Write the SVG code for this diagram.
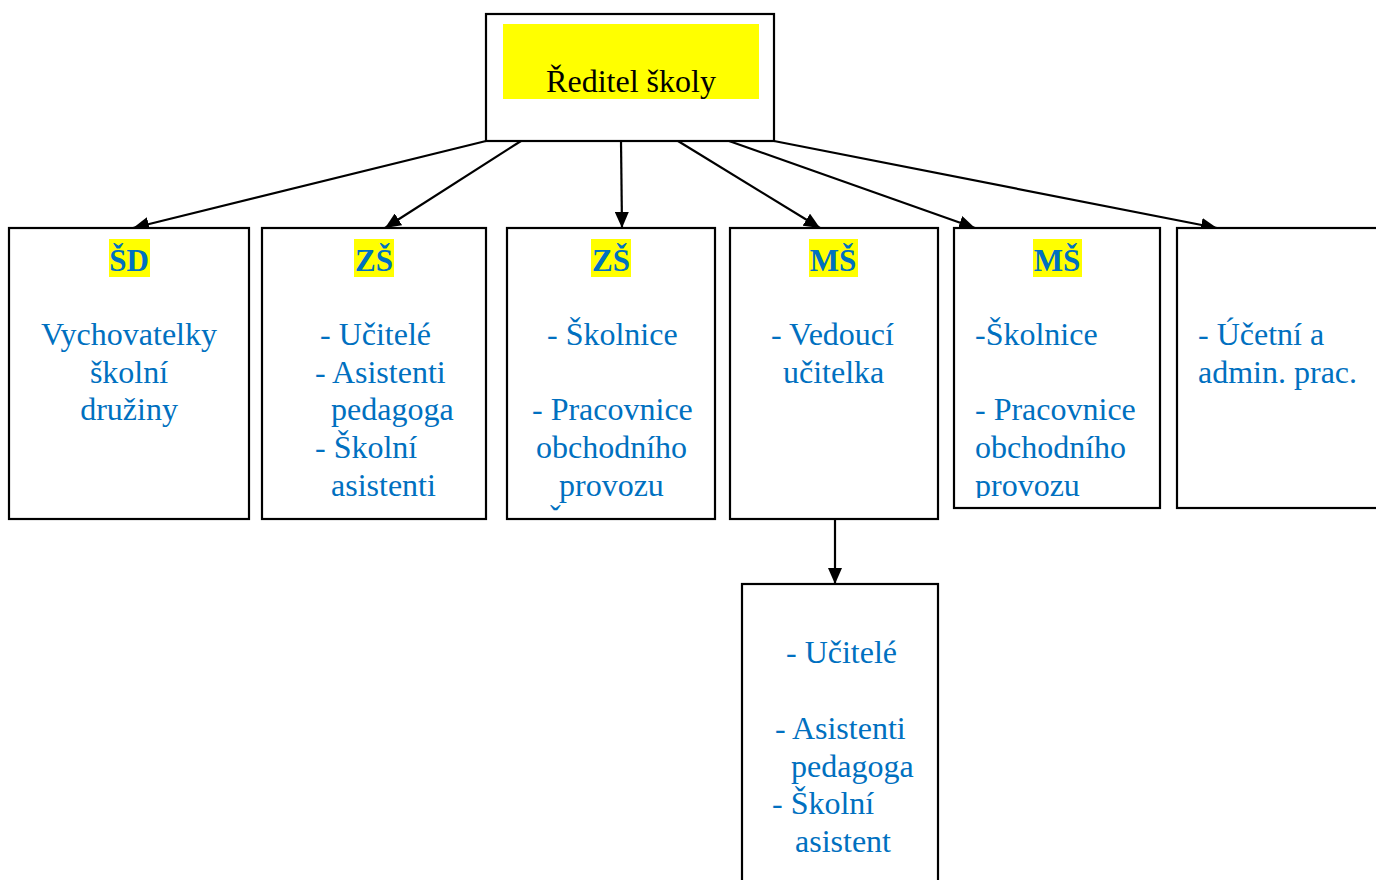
<svg xmlns="http://www.w3.org/2000/svg" width="1376" height="880" viewBox="0 0 1376 880">
<style>
.box{fill:#fff;stroke:#000;stroke-width:2.2}
.t{font-family:"Liberation Serif","Times New Roman",serif;font-size:32px;fill:#0070C0}
.c{text-anchor:middle}
.h{font-family:"Liberation Serif","Times New Roman",serif;font-size:31px;font-weight:bold;fill:#0070C0;text-anchor:middle}
.hl{fill:#ffff00}
.con{stroke:#000;stroke-width:2.2;fill:none;marker-end:url(#arr)}
</style>
<defs>
<marker id="arr" viewBox="0 0 16 14" refX="16" refY="7" markerWidth="16" markerHeight="14" markerUnits="userSpaceOnUse" orient="auto">
<path d="M0,0 L16,7 L0,14 Z" fill="#000"/>
</marker>
<clipPath id="clip3"><rect x="508" y="229" width="206" height="283"/></clipPath>
<clipPath id="clip5"><rect x="955" y="229" width="204" height="269"/></clipPath>
</defs>
<rect width="1376" height="880" fill="#fff"/>
<g id="connectors">
<line class="con" x1="486" y1="141" x2="133" y2="228"/>
<line class="con" x1="521" y1="141" x2="385" y2="228"/>
<line class="con" x1="621" y1="141" x2="622" y2="228"/>
<line class="con" x1="678" y1="141" x2="820" y2="228"/>
<line class="con" x1="729" y1="141" x2="975" y2="228"/>
<line class="con" x1="774" y1="141" x2="1217" y2="228"/>
<line class="con" x1="835" y1="519" x2="835" y2="584"/>
</g>
<g id="reditel">
<rect class="box" x="486" y="14" width="288" height="127"/>
<rect class="hl" x="503" y="24" width="256" height="75"/>
<text x="631" y="92" font-family="'Liberation Serif','Times New Roman',serif" font-size="32" fill="#000" text-anchor="middle">Ředitel školy</text>
</g>
<g id="sd">
<rect class="box" x="9" y="228" width="240" height="291"/>
<rect class="hl" x="109" y="239" width="41" height="38"/>
<text class="h" x="129" y="271">ŠD</text>
<text class="t c" x="129" y="345">Vychovatelky</text>
<text class="t c" x="129" y="383">školní</text>
<text class="t c" x="129" y="420">družiny</text>
</g>
<g id="zs1">
<rect class="box" x="262" y="228" width="224" height="291"/>
<rect class="hl" x="354" y="239" width="40" height="38"/>
<text class="h" x="374" y="271">ZŠ</text>
<text class="t" x="320" y="345">- Učitelé</text>
<text class="t" x="315" y="383">- Asistenti</text>
<text class="t" x="331" y="420">pedagoga</text>
<text class="t" x="315" y="458">- Školní</text>
<text class="t" x="331" y="496">asistenti</text>
</g>
<g id="zs2">
<rect class="box" x="507" y="228" width="208" height="291"/>
<rect class="hl" x="591" y="239" width="40" height="38"/>
<text class="h" x="611" y="271">ZŠ</text>
<text class="t" x="547" y="345">- Školnice</text>
<text class="t" x="532" y="420">- Pracovnice</text>
<text class="t" x="536" y="458">obchodního</text>
<text class="t" x="559" y="496">provozu</text>
<g clip-path="url(#clip3)"><text class="t" x="546" y="533">Š</text></g>
</g>
<g id="ms1">
<rect class="box" x="730" y="228" width="208" height="291"/>
<rect class="hl" x="809" y="239" width="49" height="38"/>
<text class="h" x="833" y="271">MŠ</text>
<text class="t" x="771" y="345">- Vedoucí</text>
<text class="t" x="783" y="383">učitelka</text>
</g>
<g id="ms2">
<rect class="box" x="954" y="228" width="206" height="280"/>
<rect class="hl" x="1033" y="239" width="49" height="38"/>
<text class="h" x="1057" y="271">MŠ</text>
<text class="t" x="975" y="345">-Školnice</text>
<text class="t" x="975" y="420">- Pracovnice</text>
<text class="t" x="975" y="458">obchodního</text>
<g clip-path="url(#clip5)"><text class="t" x="975" y="496">provozu</text></g>
</g>
<g id="ucetni">
<rect class="box" x="1177" y="228" width="210" height="280"/>
<text class="t" x="1198" y="345">- Účetní a</text>
<text class="t" x="1198" y="383">admin. prac.</text>
</g>
<g id="ms-staff">
<rect class="box" x="742" y="584" width="196" height="310"/>
<text class="t" x="786" y="663">- Učitelé</text>
<text class="t" x="775" y="739">- Asistenti</text>
<text class="t" x="791" y="777">pedagoga</text>
<text class="t" x="772" y="814">- Školní</text>
<text class="t" x="795" y="852">asistent</text>
</g>
</svg>
